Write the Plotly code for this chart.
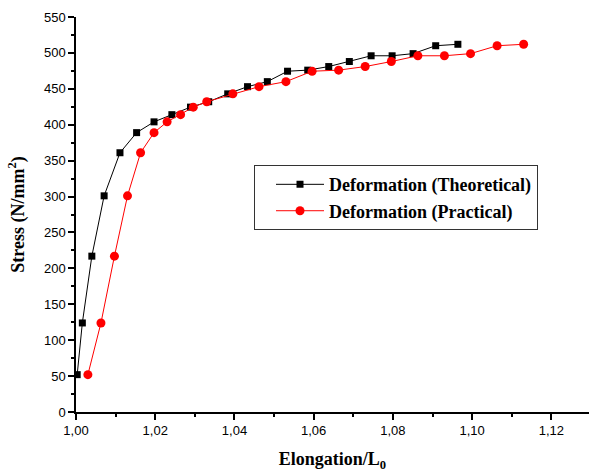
import plotly.graph_objects as go

# Data
stress = [52, 124, 217, 301, 361, 389, 404, 414, 424.5, 432, 443, 453, 460,
          474.5, 476, 481, 488, 496, 496, 499, 510, 512]
elong_theoretical = [1.0003, 1.0016, 1.0040, 1.0071, 1.0111, 1.0153, 1.0197, 1.0242,
                     1.0289, 1.0335, 1.0383, 1.0433, 1.0483, 1.0534, 1.0585, 1.0638,
                     1.0690, 1.0745, 1.0798, 1.0851, 1.0908, 1.0964]
elong_practical = [1.0030, 1.0063, 1.0097, 1.0130, 1.0163, 1.0197, 1.0230, 1.0264,
                   1.0296, 1.0330, 1.0396, 1.0462, 1.0530, 1.0596, 1.0663, 1.0730,
                   1.0796, 1.0863, 1.0930, 1.0996, 1.1063, 1.1130]

x_tickvals = [1.00, 1.02, 1.04, 1.06, 1.08, 1.10, 1.12]
x_ticktext = ["1,00", "1,02", "1,04", "1,06", "1,08", "1,10", "1,12"]
y_tickvals = list(range(0, 551, 50))

fig = go.Figure()
fig.add_trace(go.Scatter(
    x=elong_theoretical, y=stress, mode="lines+markers",
    name="<b>Deformation (Theoretical)</b>",
    line=dict(color="black", width=1),
    marker=dict(symbol="square", size=7, color="black"),
))
fig.add_trace(go.Scatter(
    x=elong_practical, y=stress, mode="lines+markers",
    name="<b>Deformation (Practical)</b>",
    line=dict(color="#ff0000", width=1),
    marker=dict(symbol="circle", size=9, color="#ff0000"),
))

axis_font = dict(family="Liberation Sans, Arial", size=13, color="black")
title_font = dict(family="Liberation Serif, Times New Roman", size=18, color="black")
legend_font = dict(family="Liberation Serif, Times New Roman", size=18, color="black")
fig.update_layout(
    width=589, height=476,
    margin=dict(l=76, r=0, t=17, b=64, autoexpand=False),
    plot_bgcolor="white", paper_bgcolor="white",
    showlegend=True,
    legend=dict(
        x=0.347, y=0.625, xanchor="left", yanchor="top",
        bordercolor="#333333", borderwidth=1, bgcolor="white",
        font=legend_font, indentation=16,
        itemwidth=48, tracegroupgap=0,
    ),
    xaxis=dict(
        range=[1.0, 1.1295], showgrid=False, zeroline=False, automargin=False,
        showline=True, linecolor="black", linewidth=1.5,
        ticks="outside", ticklen=6, tickwidth=1.5, tickcolor="black",
        tickvals=x_tickvals, ticktext=x_ticktext, tickfont=axis_font,
        minor=dict(dtick=0.01, ticks="outside", ticklen=3, tickwidth=1.5, tickcolor="black"),
        title=dict(text="<b>Elongation/L<sub>0</sub></b>", font=title_font),
    ),
    yaxis=dict(
        range=[0, 550], showgrid=False, zeroline=False, automargin=False,
        showline=True, linecolor="black", linewidth=1.5,
        ticks="outside", ticklen=6, tickwidth=1.5, tickcolor="black",
        tickvals=y_tickvals, tickfont=axis_font,
        minor=dict(dtick=25, ticks="outside", ticklen=3, tickwidth=1.5, tickcolor="black"),
        title=dict(text="<b>Stress (N/mm<sup>2</sup>)</b>", font=title_font),
    ),
)

fig.write_html("out.html", config={"displayModeBar": False},
               post_script="document.body.style.margin='0';document.body.style.overflow='hidden';")
